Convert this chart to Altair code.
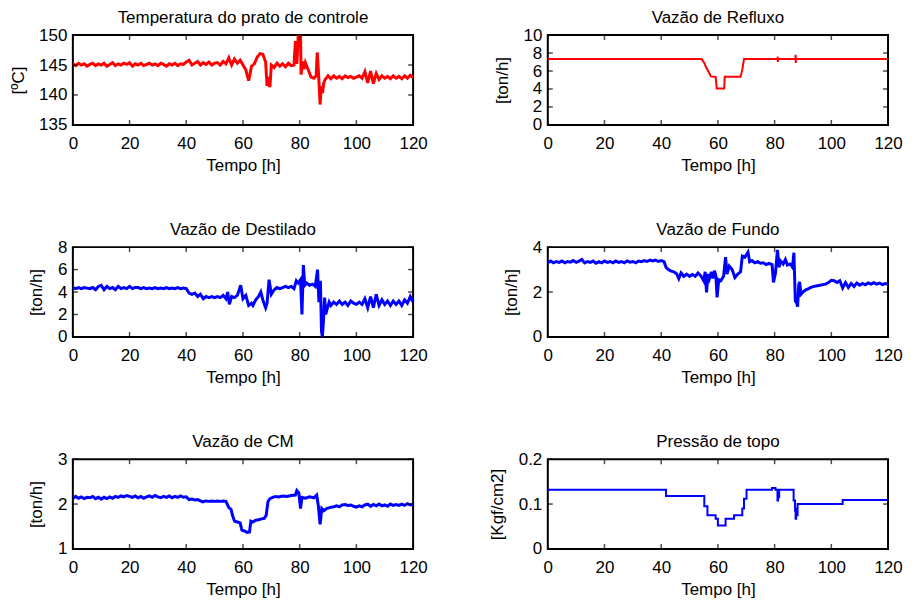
import altair as alt
import pandas as pd

# ---------------- data ----------------
x_ticks = [0, 20, 40, 60, 80, 100, 120]

# Temperatura do prato de controle [ºC]
temp_t = list(range(0, 55)) + [
    55, 56, 57, 58, 59, 60, 61, 62, 62.5, 63, 64, 65, 66, 67, 68, 68.5, 69, 69.5,
    70, 71, 72, 73, 74, 75, 76, 77, 78, 78.5, 79, 79.5, 80.3, 80.5, 81, 81.5, 82, 83,
    84, 85, 85.8, 86.2, 86.6, 87.2, 87.6, 88, 88.5, 89, 90, 91, 92, 93, 94, 95, 96,
    97, 98, 99, 100, 101, 102, 103, 104, 105, 106, 107, 108, 109, 110, 111, 112, 113,
    114, 115, 116, 117, 118, 119, 120]
temp_v = [
    145.2, 144.9, 145.3, 145.0, 145.2, 144.8, 145.1, 145.3, 144.9, 145.2,
    145.0, 145.3, 144.8, 145.1, 145.4, 144.9, 145.2, 145.0, 145.3, 145.1,
    145.4, 144.8, 145.2, 145.0, 145.3, 144.9, 145.1, 145.3, 145.0, 145.2,
    144.9, 145.3, 145.1, 144.8, 145.2, 145.0, 145.3, 144.9, 145.2, 145.1,
    145.5, 145.8, 145.0, 145.3, 145.6, 145.0, 145.4, 145.1, 145.5, 145.0,
    145.3, 145.4, 145.0, 145.6, 145.2,
    146.2, 145.0, 146.0, 145.3, 145.8, 145.0, 144.2, 142.4, 143.5, 144.8, 145.2,
    146.3, 146.9, 146.8, 145.5, 141.5, 143.0, 141.3,
    145.0, 144.6, 145.3, 144.8, 145.2, 144.7, 145.3, 144.9, 145.0, 149.0, 145.2,
    150.0, 150.0, 143.4, 145.6, 144.3, 145.4, 144.2,
    143.0, 142.8, 143.2, 147.1, 144.0, 138.4, 141.5, 140.3, 142.0, 142.6, 143.2,
    142.7, 143.2, 142.8, 143.1, 142.7, 143.2, 142.9, 143.1, 142.8, 143.0, 143.2,
    142.8, 143.9, 142.0, 144.0, 141.9, 143.6, 142.6, 143.2, 142.8, 143.1, 142.7,
    143.2, 142.8, 143.1, 142.7, 143.2, 142.8, 143.3, 142.9]

# Vazão de Refluxo [ton/h]
refl_t = [0, 54.3, 55.2, 55.7, 56.3, 56.9, 57.5, 59.2, 59.6, 62.2, 62.4, 68.0,
          68.6, 69.2, 81.0, 81.1, 81.15, 81.2, 87.3, 87.4, 87.45, 87.5, 120]
refl_v = [7.33, 7.33, 6.9, 6.5, 6.15, 5.8, 5.4, 5.35, 4.05, 4.05, 5.35, 5.35,
          6.15, 7.33, 7.33, 7.6, 7.0, 7.33, 7.33, 7.8, 6.9, 7.33, 7.33]

# Vazão de Destilado [ton/h]
dest_t = list(range(0, 55)) + [
    54.6, 55.2, 56, 57, 58, 59.2, 60, 61, 62, 63, 63.5, 64.5, 65.5, 66.3, 67, 68,
    68.5, 69.2, 70, 71, 72, 73, 74, 75, 76, 77, 78, 78.8, 79.5, 80.3, 80.8, 81.3,
    81.8, 82.5, 83.5, 84.5, 85.5, 86.3, 86.8, 87.3, 87.7, 88.0, 88.4, 88.8, 89.2,
    89.8, 90.4, 91, 92, 93, 94, 95, 96, 97, 98, 99, 100, 101, 102, 103, 104, 105,
    106, 107, 108, 109, 110, 111, 112, 113, 114, 115, 116, 117, 118, 119, 120]
dest_v = [
    4.4, 4.3, 4.4, 4.3, 4.4, 4.35, 4.3, 4.4, 4.2, 4.5,
    4.6, 4.2, 4.5, 4.3, 4.4, 4.2, 4.5, 4.3, 4.4, 4.3,
    4.5, 4.3, 4.4, 4.4, 4.3, 4.4, 4.3, 4.35, 4.3, 4.4,
    4.3, 4.35, 4.3, 4.4, 4.3, 4.35, 4.3, 4.4, 4.3, 4.35,
    4.3, 3.9, 3.8, 3.9, 3.6, 3.8, 3.4, 3.6, 3.5, 3.6,
    3.5, 3.6, 3.5, 3.7, 3.4,
    4.0, 2.9, 3.6, 3.5, 3.7, 4.6, 3.4, 3.7, 2.8, 3.0, 2.8, 3.3, 3.6, 4.0, 3.3, 2.6,
    3.0, 5.1, 3.8, 4.2, 4.4, 4.3, 4.4, 4.5, 4.4, 4.5, 4.3, 5.0, 4.8, 5.1, 2.0, 6.4,
    4.6, 4.8, 4.6, 4.7, 4.5, 6.0, 3.1, 5.0, 0.5, 0.0, 1.5, 3.5, 2.0,
    2.6, 3.1, 2.8, 3.1, 2.9, 3.2, 2.9, 3.1, 2.8, 3.2, 3.0, 2.9, 3.1, 2.9, 3.4, 2.6, 3.6,
    2.6, 3.8, 2.8, 3.3, 2.9, 3.2, 2.8, 3.2, 2.9, 3.2, 2.8, 3.3, 3.0, 3.6, 3.1]

# Vazão de Fundo [ton/h]
fund_t = list(range(0, 42)) + [
    41.7, 42.5, 43.5, 44.5, 45.5, 46.2, 47, 48, 49, 50, 51, 52, 53, 54, 55, 55.5,
    56, 56.5, 57, 57.7, 58.2, 58.8, 59.3, 59.7, 60.3, 61, 62, 62.7, 63.2, 64, 65,
    66, 67, 68, 68.6, 69.5, 70.6, 71.2, 72, 73, 74, 75, 76, 77, 78, 79.1, 79.6,
    80.3, 81, 81.6, 82, 83, 83.8, 84.5, 85.5, 86.3, 86.8, 87.3, 87.8, 88.1, 88.5,
    88.8, 89.3, 90, 91, 92, 93, 94, 95, 96, 97, 98, 99, 100, 101, 102, 103, 104,
    105, 106, 107, 108, 109, 110, 111, 112, 113, 114, 115, 116, 117, 118, 119, 120]
fund_v = [
    3.3, 3.38, 3.3, 3.36, 3.32, 3.38, 3.3, 3.36, 3.33, 3.4,
    3.32, 3.38, 3.45, 3.3, 3.36, 3.32, 3.38, 3.28, 3.35, 3.3,
    3.38, 3.32, 3.36, 3.3, 3.38, 3.32, 3.36, 3.3, 3.38, 3.33,
    3.36, 3.3, 3.38, 3.35, 3.4, 3.36, 3.42, 3.38, 3.42, 3.36,
    3.4, 3.35,
    3.1, 3.0, 2.93, 2.9, 2.8, 2.6, 2.85, 2.7, 2.8, 2.7, 2.78, 2.7, 2.85, 2.72, 2.5,
    2.9, 1.98, 2.8, 2.6, 2.9, 2.6, 2.95, 2.7, 1.76, 2.55, 2.5, 2.7, 3.55, 2.8, 3.15,
    3.0, 2.65, 2.8, 2.9, 3.6, 3.55, 3.78, 3.35, 3.4, 3.3, 3.35, 3.28, 3.3, 3.22,
    3.28, 3.22, 2.43, 2.85, 3.88, 3.1, 3.4, 3.25, 3.45, 3.2, 3.25, 3.1, 3.75, 1.6,
    1.5, 1.35, 2.3, 2.45, 1.9, 2.0, 2.1, 2.15, 2.22, 2.25, 2.28, 2.3, 2.33, 2.35,
    2.42, 2.52, 2.5, 2.42, 2.5, 2.18, 2.42, 2.2, 2.38, 2.25, 2.4, 2.3, 2.38, 2.32,
    2.4, 2.35, 2.42, 2.35, 2.4, 2.33, 2.38, 2.35]

# Vazão de CM [ton/h]
cm_t = list(range(0, 45)) + [
    45.8, 47, 48, 49, 50, 51, 52, 53, 54, 55, 55.8, 56.3, 57, 58, 59, 59.6, 60.5,
    61.5, 62.3, 62.8, 63.5, 64.5, 65.5, 66.5, 67.5, 68.2, 68.8, 69.5, 70.5, 71.5,
    72.5, 74, 75.5, 77, 78.5, 79, 79.7, 80.3, 80.8, 82, 83.5, 85, 86, 86.6, 87.2,
    87.8, 88.5, 89.5, 90.5, 92, 93, 94, 95, 96, 97, 98, 99, 100, 101, 102, 103, 104,
    105, 106, 107, 108, 109, 110, 111, 112, 113, 114, 115, 116, 117, 118, 119, 120]
cm_v = [
    2.12, 2.17, 2.13, 2.16, 2.12, 2.15, 2.14, 2.17, 2.12, 2.15,
    2.11, 2.15, 2.12, 2.16, 2.13, 2.17, 2.15, 2.18, 2.16, 2.19,
    2.17, 2.15, 2.18, 2.14, 2.17, 2.13, 2.16, 2.18, 2.15, 2.19,
    2.16, 2.14, 2.17, 2.15, 2.18, 2.14, 2.17, 2.15, 2.18, 2.15,
    2.16, 2.1, 2.11, 2.09, 2.1,
    2.05, 2.07, 2.06, 2.07, 2.06, 2.07, 2.06, 2.07, 2.06, 1.92, 1.88, 1.75, 1.62,
    1.6, 1.58, 1.42, 1.4, 1.37, 1.38, 1.62, 1.6, 1.64, 1.65, 1.67, 1.68, 1.75, 2.05,
    2.12, 2.15, 2.17, 2.16, 2.18, 2.17, 2.19, 2.2, 2.3, 2.25, 1.9, 2.15, 2.13, 2.16,
    2.14, 2.2, 1.95, 1.55, 1.9, 1.85, 1.9, 1.92, 1.94, 1.96, 1.94, 1.98, 1.99, 1.97,
    1.98, 1.95, 1.93, 1.96, 1.94, 1.98, 2.0, 1.95, 1.99, 1.96, 2.0, 1.96, 1.98, 1.95,
    2.0, 1.97, 1.99, 1.97, 2.0, 1.97, 2.01, 1.98, 1.99]

# Pressão de topo [Kgf/cm2]
pres_t = [0, 41.7, 55.2, 56.3, 59.2, 60.0, 62.7, 65.7, 68.6, 69.2, 70.1, 79.1,
          80.3, 81.0, 81.2, 81.4, 81.6, 86.7, 87.2, 87.4, 87.6, 87.8, 88.1, 104.0, 120]
pres_v = [0.132, 0.118, 0.095, 0.075, 0.067, 0.052, 0.067, 0.075, 0.090, 0.112,
          0.132, 0.136, 0.132, 0.108, 0.125, 0.115, 0.132, 0.108, 0.085, 0.067,
          0.090, 0.075, 0.100, 0.109, 0.109]

W, H = 341, 90
FONT = "Liberation Sans"


def panel(ts, vs, color, ydom, yticks, title, ytitle, sw, interp="linear"):
    df = pd.DataFrame({"t": ts, "v": vs})
    xenc = alt.X("t:Q", scale=alt.Scale(domain=[0, 120], nice=False),
                 axis=alt.Axis(values=x_ticks, title="Tempo [h]", labelFlush=False))
    yenc = alt.Y("v:Q", scale=alt.Scale(domain=ydom, nice=False, zero=False),
                 axis=alt.Axis(values=yticks, title=ytitle, format="~f"))
    line = alt.Chart(df).mark_line(color=color, strokeWidth=sw, clip=True,
                                   interpolate=interp).encode(x=xenc, y=yenc)
    xt = alt.Chart(pd.DataFrame({"t": x_ticks}))
    yt = alt.Chart(pd.DataFrame({"v": yticks}))
    tk = dict(color="black", size=5, thickness=1.5)
    t_top = xt.mark_tick(yOffset=2.5, **tk).encode(x=xenc, y=alt.value(0))
    t_bot = xt.mark_tick(yOffset=-2.5, **tk).encode(x=xenc, y=alt.value(H))
    t_lft = yt.mark_tick(xOffset=2.5, **tk).encode(y=yenc, x=alt.value(0))
    t_rgt = yt.mark_tick(xOffset=-2.5, **tk).encode(y=yenc, x=alt.value(W))
    return alt.layer(line, t_top, t_bot, t_lft, t_rgt).properties(
        width=W, height=H, title=title)


p1 = panel(temp_t, temp_v, "#ff0000", [135, 150], [135, 140, 145, 150],
           "Temperatura do prato de controle", "[ºC]", 3)
p2 = panel(refl_t, refl_v, "#ff0000", [0, 10], [0, 2, 4, 6, 8, 10],
           "Vazão de Refluxo", "[ton/h]", 2)
p3 = panel(dest_t, dest_v, "#0000ff", [0, 8], [0, 2, 4, 6, 8],
           "Vazão de Destilado", "[ton/h]", 3)
p4 = panel(fund_t, fund_v, "#0000ff", [0, 4], [0, 2, 4],
           "Vazão de Fundo", "[ton/h]", 3)
p5 = panel(cm_t, cm_v, "#0000ff", [1, 3], [1, 2, 3],
           "Vazão de CM", "[ton/h]", 3)
p6 = panel(pres_t, pres_v, "#0000ff", [0, 0.2], [0, 0.1, 0.2],
           "Pressão de topo", "[Kgf/cm2]", 2, interp="step-after")

chart = alt.concat(p1, p2, p3, p4, p5, p6, columns=2,
                   spacing={"row": 122.5, "column": 135}, bounds="flush").properties(
    padding={"left": 0, "top": -1.5, "right": 0, "bottom": 0}
).configure_view(stroke="black", strokeWidth=2).configure_axis(
    labelFont=FONT, titleFont=FONT, labelFontSize=17, titleFontSize=17,
    labelColor="black", titleColor="black", titleFontWeight="normal",
    ticks=False, domain=False, grid=False
).configure_axisY(labelPadding=6, titlePadding=11.5).configure_axisX(
    labelPadding=11, titlePadding=6
).configure_title(font=FONT, fontSize=17, fontWeight="normal", color="black",
                  offset=-0.5, anchor="middle")

chart.save("out.html", embed_options={"renderer": "svg", "actions": False})
